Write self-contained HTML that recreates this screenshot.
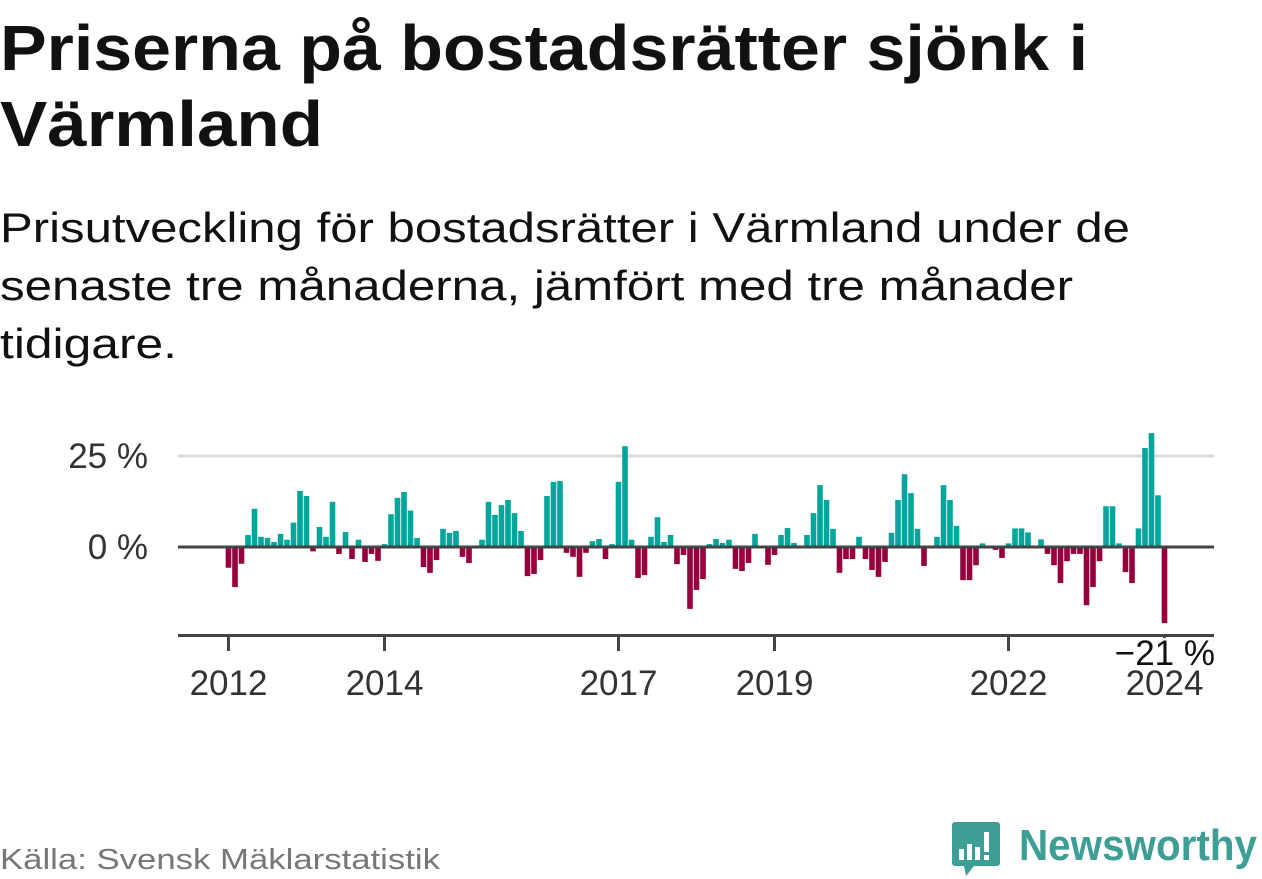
<!DOCTYPE html>
<html><head><meta charset="utf-8"><style>
html,body{margin:0;padding:0;background:#fff;}
svg{display:block;font-family:"Liberation Sans",sans-serif;}
</style></head><body>
<svg id="chart" width="1262" height="879" viewBox="0 0 1262 879">
<text x="0" y="70" font-size="64" font-weight="bold" fill="#111" textLength="1088" lengthAdjust="spacingAndGlyphs">Priserna på bostadsrätter sjönk i</text>
<text x="0" y="146" font-size="64" font-weight="bold" fill="#111" textLength="323" lengthAdjust="spacingAndGlyphs">Värmland</text>
<text x="0" y="242" font-size="42" fill="#111" textLength="1130" lengthAdjust="spacingAndGlyphs">Prisutveckling för bostadsrätter i Värmland under de</text>
<text x="0" y="300" font-size="42" fill="#111" textLength="1073" lengthAdjust="spacingAndGlyphs">senaste tre månaderna, jämfört med tre månader</text>
<text x="0" y="358" font-size="42" fill="#111" textLength="177" lengthAdjust="spacingAndGlyphs">tidigare.</text>
<g id="plot"></g>
<text x="0" y="869" font-size="29" fill="#777" textLength="440" lengthAdjust="spacingAndGlyphs">Källa: Svensk Mäklarstatistik</text>
<g>
<path d="M955 822 h42 a3 3 0 0 1 3 3 v38 a3 3 0 0 1 -3 3 h-23 l-8 10 l-2 -10 h-9 a3 3 0 0 1 -3 -3 v-38 a3 3 0 0 1 3 -3z" fill="#3d9e96"/>
<rect x="959" y="849" width="5" height="11" fill="#fff"/>
<rect x="967" y="844" width="5" height="16" fill="#fff"/>
<rect x="975" y="847" width="5" height="13" fill="#fff"/>
<rect x="984" y="832" width="5" height="20" fill="#fff"/>
<rect x="984" y="855" width="5" height="5" fill="#fff"/>
<text x="1019" y="860" font-size="44" font-weight="bold" fill="#3d9e96" textLength="238" lengthAdjust="spacingAndGlyphs">Newsworthy</text>
</g>
</svg>
<script>
const values = [-5.7,-11,-4.6,3.3,10.5,2.8,2.5,1.4,3.6,2,6.7,15.4,14,-1.2,5.5,2.8,12.4,-1.9,4.1,-3.3,2,-4.1,-1.9,-3.8,0.8,9,13.5,15.1,10,2.5,-5.5,-7.1,-3.6,5,
3.9,4.4,-2.7,-4.4,0,2,12.4,8.8,11.5,12.9,9.3,4.4,-8,-7.4,-3.6,14,17.9,18.1,-1.6,-2.7,-8.2,-1.6,1.6,2.2,-3.3,0.8,17.9,27.7,2,-8.5,-7.7,2.8,8.2,1.4,3.3,-4.7,-2.2,-17,-11.8,
-8.8,0.8,2.2,1.1,2,-6,-6.6,-4.4,3.6,0,-4.9,-2.2,3.3,5.2,1.1,0,3.3,9.3,17,12.9,5,-7.1,-3.3,-3.3,2.8,-3.3,-6.3,-8.2,-4.1,3.9,12.9,20,14.8,5,-5.2,0,2.8,17,12.9,5.8,
-9.1,-9.1,-5,1,0,-0.8,-3,1,5.1,5.1,4,0,2.1,-1.9,-5,-9.9,-3.9,-1.9,-1.9,-16,-11,-3.9,11.2,11.2,1,-6.9,-9.9,5.1,27.2,31.3,14.2,-20.9];
const startYear = 2012;
const xTickYears = [2012, 2014, 2017, 2019, 2022, 2024];
const yTicks = [0, 25];
const yTickLabels = ["0 %", "25 %"];

const NS = "http://www.w3.org/2000/svg";
const plot = document.getElementById('plot');
const x = i => 228.5 + 6.5 * i;
const y = v => 547 - v * 3.64;
const xYear = yr => x((yr - startYear) * 12);
function mk(tag, attrs, parent) {
  const e = document.createElementNS(NS, tag);
  for (const k in attrs) e.setAttribute(k, attrs[k]);
  (parent || plot).appendChild(e);
  return e;
}
yTicks.forEach((t, i) => {
  if (t !== 0) {
    const g = mk('line', {x1: 178, x2: 1214, y1: y(t), y2: y(t), stroke: '#ddd', 'stroke-width': 3});
    
    
  }
  const lb = mk('text', {x: 148, y: y(t) + 12, 'font-size': 35, fill: '#333', 'text-anchor': 'end'});
  lb.textContent = yTickLabels[i];
  
  
});
values.forEach((v, i) => {
  const r = mk('rect', {x: x(i) - 2.8, width: 5.6, y: v >= 0 ? y(v) : y(0), height: Math.abs(y(v) - y(0)), fill: v >= 0 ? '#00a59b' : '#96003c'});
  
  
});
const zl = mk('line', {x1: 178, x2: 1214, y1: y(0), y2: y(0), stroke: '#444', 'stroke-width': 3});


const ax = mk('line', {x1: 178, x2: 1214, y1: 635.5, y2: 635.5, stroke: '#444', 'stroke-width': 3});


xTickYears.forEach(yr => {
  const t = mk('line', {x1: xYear(yr), x2: xYear(yr), y1: 635, y2: 651, stroke: '#444', 'stroke-width': 3});
  
  
  const lb = mk('text', {x: xYear(yr), y: 695, 'font-size': 35, fill: '#333', 'text-anchor': 'middle'});
  lb.textContent = String(yr);
  
  
});
const last = values.length - 1;
const ann = mk('text', {x: 1215, y: 665, 'font-size': 35, fill: '#111', 'text-anchor': 'end', stroke: '#fff', 'stroke-width': 5, 'paint-order': 'stroke', 'stroke-linejoin': 'round'});
ann.textContent = '\u2212' + Math.round(Math.abs(values[last])) + ' %';


</script>
</body></html>
